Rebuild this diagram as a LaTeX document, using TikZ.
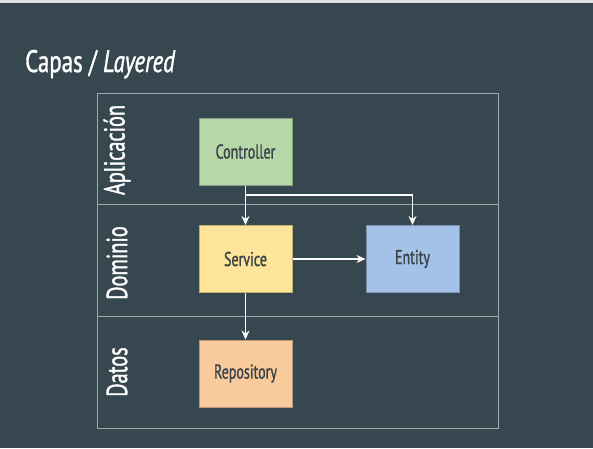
\documentclass[tikz,border=0pt]{standalone}
\usepackage{fontspec}
\setmainfont{PT Sans}[FakeStretch=0.7, FakeBold=1.2, ItalicFeatures={FakeBold=1.2}]
\newfontfamily\titlefont{PT Sans}[FakeStretch=0.74, FakeBold=1.2, ItalicFeatures={FakeBold=1.2}]
\usetikzlibrary{arrows.meta}
\definecolor{bg}{HTML}{37474F}
\definecolor{frame}{HTML}{A3AAAE}
\definecolor{ctrl}{HTML}{B6D7A8}
\definecolor{serv}{HTML}{FFE599}
\definecolor{enti}{HTML}{A4C2E8}
\definecolor{repo}{HTML}{F9CB9C}
\definecolor{txt}{HTML}{3A4448}
\tikzset{
  box/.style={draw=#1!75!black, fill=#1, line width=1pt, minimum width=93pt, minimum height=67pt, inner sep=0pt, text=txt, font=\fontsize{20}{20}\selectfont},
  lane/.style={draw=frame, line width=1pt},
  lanelabel/.style={rotate=90, text=white, font=\fontsize{29}{29}\selectfont, inner sep=0pt},
  conn/.style={draw=white, line width=1.6pt, -{Stealth[length=9pt,width=8pt,inset=3pt]}}
}
\begin{document}
\begin{tikzpicture}[x=1pt,y=-1pt]
\fill[bg] (0,0) rectangle (593,448);
\fill[black!12] (0,0) rectangle (593,3);
\useasboundingbox (0,0) rectangle (593,448);
\node[anchor=base west, text=white, font=\titlefont\fontsize{31}{31}\selectfont, inner sep=0pt] (title) at (25,72) {Capas / \textit{Layered}};
% lanes
\node[lane, minimum width=401pt, minimum height=111pt, inner sep=0pt, anchor=north west] (l1) at (97,93) {};
\node[lane, minimum width=401pt, minimum height=112pt, inner sep=0pt, anchor=north west] (l2) at (97,204) {};
\node[lane, minimum width=401pt, minimum height=112pt, inner sep=0pt, anchor=north west] (l3) at (97,316) {};
\node[lanelabel] (t1) at (117,150) {Aplicación};
\node[lanelabel] (t2) at (117,263) {Dominio};
\node[lanelabel] (t3) at (117,372) {Datos};
% boxes
\node[box=ctrl] (controller) at (245.5,151.5) {Controller};
\node[box=serv] (service) at (245.5,259) {Service};
\node[box=enti] (entity) at (412.5,259) {Entity};
\node[box=repo] (repository) at (245.5,373.5) {Repository};
% connectors
\draw[conn] (controller) -- (service);
\coordinate (branch) at (245.5,195);
\draw[conn] (controller.south) -- (branch) -| (entity.north);
\draw[conn] (service) -- (entity);
\draw[conn] (service) -- (repository);
\end{tikzpicture}
\end{document}
